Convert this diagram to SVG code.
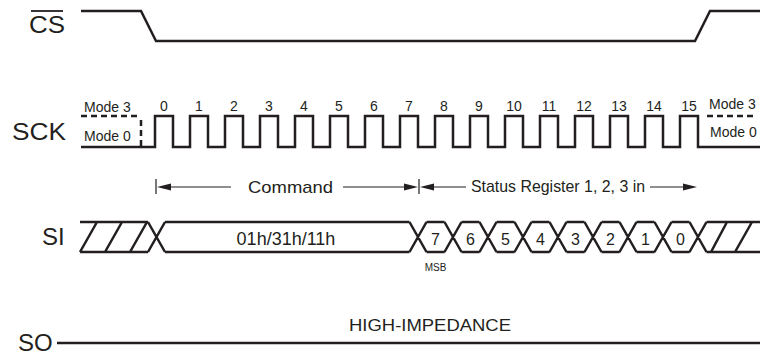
<svg xmlns="http://www.w3.org/2000/svg" width="760" height="355" viewBox="0 0 760 355">
<style>
.sig{fill:none;stroke:#231f20;stroke-width:2.5;stroke-linejoin:miter;stroke-linecap:butt}
.dash{fill:none;stroke:#231f20;stroke-width:2.5;stroke-dasharray:6 4}
.dim{fill:none;stroke:#231f20;stroke-width:1.2}
.head{fill:#231f20;stroke:none}
text{font-family:"Liberation Sans",Arial,Helvetica,sans-serif;fill:#231f20}
.big{font-size:24px}
.num{font-size:14px;text-anchor:middle}
.mode{font-size:14px}
.bit{font-size:16px;text-anchor:middle}
.lbl{font-size:17px}
</style>
<rect width="760" height="355" fill="#ffffff"/>
<g id="cs">
<text class="big" x="29" y="33" textLength="36" lengthAdjust="spacingAndGlyphs">CS</text>
<line x1="31" y1="11" x2="63" y2="11" stroke="#231f20" stroke-width="1.8"/>
<path class="sig" d="M81,11 H141 L156,41 H695 L710,11 H760"/>
</g>
<g id="sck">
<text class="big" x="12" y="140" textLength="54" lengthAdjust="spacingAndGlyphs">SCK</text>
<text class="mode" x="84" y="112">Mode 3</text>
<text class="mode" x="84" y="141">Mode 0</text>
<text class="mode" x="709" y="109">Mode 3</text>
<text class="mode" x="710" y="137">Mode 0</text>
<path class="dash" d="M81,116 H141"/>
<path class="dash" d="M141,120 V147" stroke-dasharray="5 3"/>
<path class="dash" d="M707,116 H755"/>
<path class="sig" d="M81,147 H155 V116 H173 V147 H190 V116 H208 V147 H225 V116 H243 V147 H260 V116 H278 V147 H295 V116 H313 V147 H330 V116 H348 V147 H365 V116 H383 V147 H400 V116 H418 V147 H435 V116 H453 V147 H470 V116 H488 V147 H505 V116 H523 V147 H540 V116 H558 V147 H575 V116 H593 V147 H610 V116 H628 V147 H645 V116 H663 V147 H680 V116 H698 V147 H760"/>
<text class="num" x="164" y="111">0</text>
<text class="num" x="199" y="111">1</text>
<text class="num" x="234" y="111">2</text>
<text class="num" x="269" y="111">3</text>
<text class="num" x="304" y="111">4</text>
<text class="num" x="339" y="111">5</text>
<text class="num" x="374" y="111">6</text>
<text class="num" x="409" y="111">7</text>
<text class="num" x="444" y="111">8</text>
<text class="num" x="479" y="111">9</text>
<text class="num" x="514" y="111">10</text>
<text class="num" x="549" y="111">11</text>
<text class="num" x="584" y="111">12</text>
<text class="num" x="619" y="111">13</text>
<text class="num" x="654" y="111">14</text>
<text class="num" x="689" y="111">15</text>
</g>
<g id="connectors">
<path class="dim" d="M156,179 V194 M419,179 V194"/>
<path class="dim" d="M170,187 H231 M343,187 H404 M434,187 H466 M650,187 H683"/>
<polygon class="head" points="157,187 171,183.5 171,190.5"/>
<polygon class="head" points="418,187 404,183.5 404,190.5"/>
<polygon class="head" points="420,187 434,183.5 434,190.5"/>
<polygon class="head" points="697,187 683,183.5 683,190.5"/>
<text class="lbl" x="248" y="193" font-size="18" textLength="85" lengthAdjust="spacingAndGlyphs">Command</text>
<text class="lbl" x="471" y="192" font-size="16" textLength="174" lengthAdjust="spacingAndGlyphs">Status Register 1, 2, 3 in</text>
</g>
<g id="si">
<text class="big" x="42" y="245">SI</text>
<path class="sig" d="M80,222 H148 M80,252 H148 M80,252 L97,222 M105,252 L122,222 M130,252 L147,222 M148,222 L165,252 M148,252 L165,222 M165,222 H409.5 M165,252 H409.5"/>
<path class="sig" d="M409.5,222 L426.5,252 M409.5,252 L426.5,222 M426.5,222 H444.5 M426.5,252 H444.5 M444.5,222 L461.5,252 M444.5,252 L461.5,222 M461.5,222 H479.5 M461.5,252 H479.5 M479.5,222 L496.5,252 M479.5,252 L496.5,222 M496.5,222 H514.5 M496.5,252 H514.5 M514.5,222 L531.5,252 M514.5,252 L531.5,222 M531.5,222 H549.5 M531.5,252 H549.5 M549.5,222 L566.5,252 M549.5,252 L566.5,222 M566.5,222 H584.5 M566.5,252 H584.5 M584.5,222 L601.5,252 M584.5,252 L601.5,222 M601.5,222 H619.5 M601.5,252 H619.5 M619.5,222 L636.5,252 M619.5,252 L636.5,222 M636.5,222 H654.5 M636.5,252 H654.5 M654.5,222 L671.5,252 M654.5,252 L671.5,222 M671.5,222 H689.5 M671.5,252 H689.5 M689.5,222 L706.5,252 M689.5,252 L706.5,222 M706.5,222 H760 M706.5,252 H760 M711,252 L727,222 M735,252 L752,222"/>
<text x="286" y="245" font-size="18" text-anchor="middle">01h/31h/11h</text>
<text class="bit" x="435.5" y="245">7</text>
<text class="bit" x="470.5" y="245">6</text>
<text class="bit" x="505.5" y="245">5</text>
<text class="bit" x="540.5" y="245">4</text>
<text class="bit" x="575.5" y="245">3</text>
<text class="bit" x="610.5" y="245">2</text>
<text class="bit" x="645.5" y="245">1</text>
<text class="bit" x="680.5" y="245">0</text>
<text x="435.5" y="271" font-size="10" text-anchor="middle">MSB</text>
</g>
<g id="so">
<text class="big" x="18" y="351">SO</text>
<path class="sig" d="M57,343 H760"/>
<text x="349" y="331" font-size="17" textLength="162" lengthAdjust="spacingAndGlyphs">HIGH-IMPEDANCE</text>
</g>
</svg>
